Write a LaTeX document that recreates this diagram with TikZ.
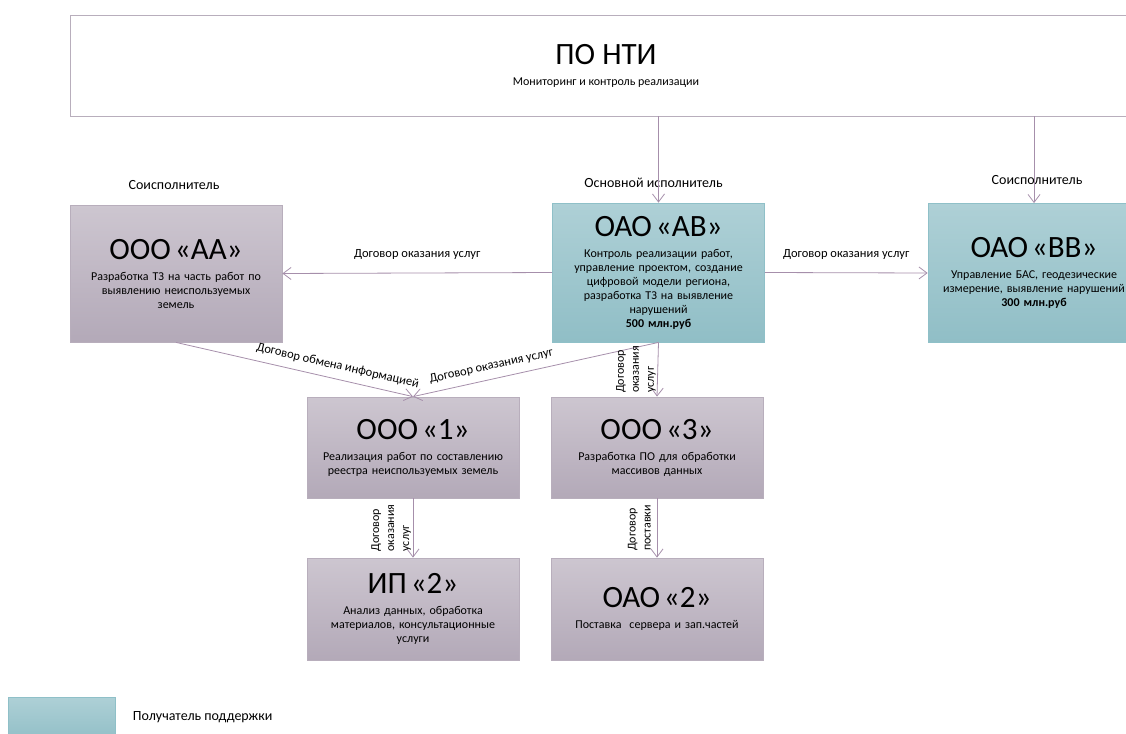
\documentclass[tikz,border=0pt]{standalone}
\usepackage{fontspec}
\setmainfont{Carlito}
\usetikzlibrary{positioning,arrows.meta}
\usepackage{color}
\definecolor{linkline}{HTML}{A68FAB}
\definecolor{lilactop}{HTML}{CDC6D0}
\definecolor{lilacbot}{HTML}{B3A9B8}
\definecolor{lilacedge}{HTML}{B8AEBC}
\definecolor{tealtop}{HTML}{AED0D6}
\definecolor{tealbot}{HTML}{90BEC6}
\definecolor{tealedge}{HTML}{8FC0C8}
\newcommand{\orgtitle}[1]{{\fontsize{31}{32}\selectfont #1}\\[7pt]}

\begin{document}
\begin{tikzpicture}[x=1pt, y=-1pt,
      >={Straight Barb[length=8pt,width=12pt]},
      every node/.style={font=\fontsize{12}{14}\selectfont},
      firm/.style={draw=lilacedge, line width=0.8pt, top color=lilactop, bottom color=lilacbot,
                   minimum width=212pt, text width=208pt, align=center, inner sep=0pt},
      support/.style={firm, draw=tealedge, top color=tealtop, bottom color=tealbot},
      link/.style={draw=linkline, line width=0.8pt},
      role/.style={font=\fontsize{14}{16}\selectfont},
      deal/.style={font=\fontsize{12.5}{14}\selectfont},
      turned/.style={rotate=90, anchor=south, align=left, inner sep=1.5pt,
                     font=\fontsize{12}{15}\selectfont}]
      \useasboundingbox (0,0) rectangle (1126,733);
      \clip (0,0) rectangle (1126,733);
      % programme office
      \node[draw=lilacedge, line width=0.8pt, minimum width=1072pt, minimum height=101pt, align=center]
            (nti) at (606,65.5) {\orgtitle{ПО НТИ}Мониторинг и контроль реализации};
      % first row
      \node[firm, minimum height=137pt] (aa) at (176,273.5)
            {\orgtitle{ООО «АА»}Разработка ТЗ на часть работ по\\выявлению неиспользуемых\\земель};
      \node[support, minimum height=139pt] (ab) at (658.5,272.5)
            {\orgtitle{ОАО «АВ»}Контроль реализации работ,\\управление проектом, создание\\цифровой модели региона,\\разработка ТЗ на выявление\\нарушений\\\textbf{500 млн.руб}};
      \node[support, minimum height=139pt] (bb) at (1034,273)
            {\orgtitle{ОАО «ВВ»}Управление БАС, геодезические\\измерение, выявление нарушений\\\textbf{300 млн.руб}};
      % second and third rows
      \node[firm, minimum height=101pt] (o1) at (413,447.5)
            {\orgtitle{ООО «1»}Реализация работ по составлению\\реестра неиспользуемых земель};
      \node[firm, minimum height=101pt] (o3) at (657,447.5)
            {\orgtitle{ООО «3»}Разработка ПО для обработки\\массивов данных};
      \node[firm, minimum height=102pt] (ip2) at (413,609)
            {\orgtitle{ИП «2»}Анализ данных, обработка\\материалов, консультационные\\услуги};
      \node[firm, minimum height=102pt] (oao2) at (657,609)
            {\orgtitle{ОАО «2»}Поставка~ сервера и зап.частей};
      % roles
      \node[role, above=11pt of aa, xshift=-2pt] (role-aa) {Соисполнитель};
      \node[role, above=11pt of ab, xshift=-5pt] (role-ab) {Основной исполнитель};
      \node[role, above=15pt of bb, xshift=3pt] (role-bb) {Соисполнитель};
      % legend
      \node[support, minimum width=107pt, text width=100pt, minimum height=45pt] (key) at (61.5,719.5) {};
      \node[role, right=14pt of key, yshift=2pt] (key-text) {Получатель поддержки};
      % contracts
      \draw[->, link] (nti.south -| ab.north) -- (ab.north);
      \draw[->, link] (nti.south -| bb.north) -- (bb.north);
      \draw[->, link] (ab.west) -- node[deal, above=10pt] {Договор оказания услуг} (aa.east);
      \draw[->, link] (ab.east) -- node[deal, above=10pt] {Договор оказания услуг} (bb.west);
      \draw[->, link] (aa.south) -- node[deal, sloped, above=4pt, pos=0.67] {Договор обмена информацией} (o1.north);
      \draw[<-, link] (o1.north) -- node[deal, sloped, above=4pt, pos=0.33] {Договор оказания услуг} (ab.south);
      \draw[->, link] (ab.south) -- node[turned] {Договор\\оказания\\услуг} (o3.north);
      \draw[->, link] (o1.south) -- node[turned] {Договор\\оказания\\услуг} (ip2.north);
      \draw[->, link] (o3.south) -- node[turned, inner ysep=6pt] {Договор\\поставки} (oao2.north);
\end{tikzpicture}
\end{document}
